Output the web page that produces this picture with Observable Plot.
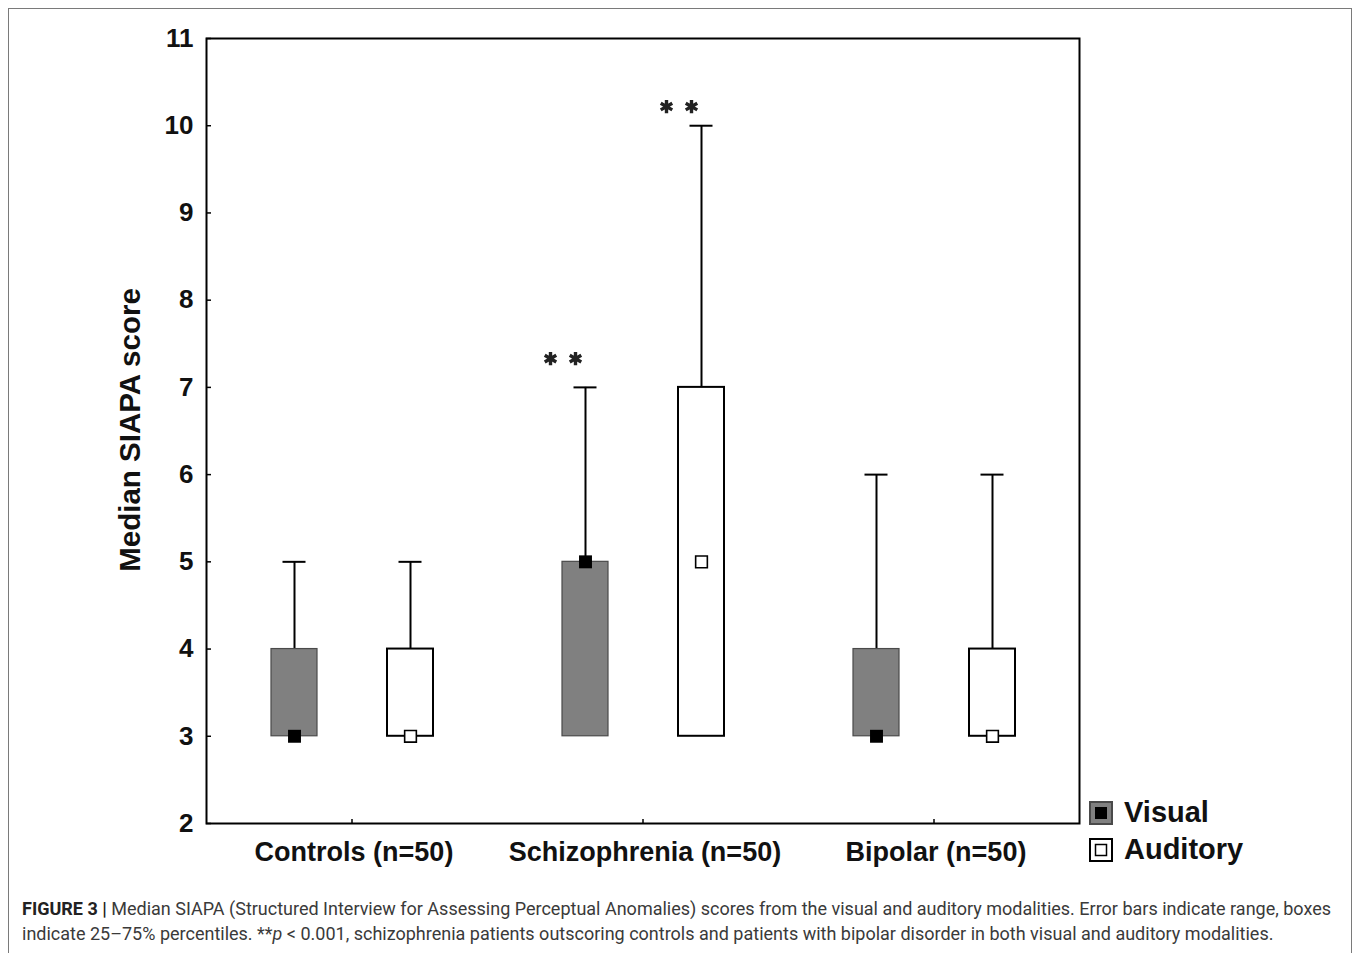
<!DOCTYPE html>
<html><head><meta charset="utf-8">
<script src="https://cdn.jsdelivr.net/npm/d3@7"></script>
<script src="https://cdn.jsdelivr.net/npm/@observablehq/plot@0.6"></script>
<style>
body{margin:0;background:#fff;}
#wrap{position:relative;width:1358px;height:953px;overflow:hidden;font-family:"Liberation Sans",Arial,sans-serif;}
#border{position:absolute;left:8px;top:8px;width:1344px;height:980px;border:1.5px solid #7a7a7a;box-sizing:border-box;}
#chart{position:absolute;left:0;top:0;}
#legend{position:absolute;left:1089px;top:794px;font-weight:bold;font-size:29px;color:#111;}
#legend .row{display:flex;align-items:center;height:37px;}
#legend svg{margin-right:11px;}
#caption{position:absolute;left:22px;top:896px;font-family:Roboto,"Liberation Sans",sans-serif;font-size:18px;color:#3a3a3a;line-height:25px;white-space:nowrap;}
#caption b{font-weight:bold;color:#222;}
</style></head>
<body>
<div id="wrap">
  <div id="border"></div>
  <div id="chart"></div>
  <div id="legend"></div>
  <div id="caption"></div>
</div>
<script>
// ---- data ----
const groups = ["Controls (n=50)", "Schizophrenia (n=50)", "Bipolar (n=50)"];
const modalities = ["Visual", "Auditory"];
const visualMin    = [3, 3, 3];
const visualQ1     = [3, 3, 3];
const visualMedian = [3, 5, 3];
const visualQ3     = [4, 5, 4];
const visualMax    = [5, 7, 6];
const auditoryMin    = [3, 3, 3];
const auditoryQ1     = [3, 3, 3];
const auditoryMedian = [3, 5, 3];
const auditoryQ3     = [4, 7, 4];
const auditoryMax    = [5, 10, 6];
const yTicks = [2, 3, 4, 5, 6, 7, 8, 9, 10, 11];
// significance markers (**) : group, modality, vertical position
const sigGroup = ["Schizophrenia (n=50)", "Schizophrenia (n=50)"];
const sigModality = ["Visual", "Auditory"];
const sigY = [7.33, 10.22];
const yLabel = "Median SIAPA score";
const legendLabels = ["Visual", "Auditory"];

// ---- build tables ----
const vis = groups.map((g, i) => ({group: g, min: visualMin[i], q1: visualQ1[i], median: visualMedian[i], q3: visualQ3[i], max: visualMax[i]}));
const aud = groups.map((g, i) => ({group: g, min: auditoryMin[i], q1: auditoryQ1[i], median: auditoryMedian[i], q3: auditoryQ3[i], max: auditoryMax[i]}));
const sigs = sigGroup.map((g, i) => ({group: g, modality: sigModality[i], y: sigY[i]}));

// ---- layout ----
const W = 1358, H = 880, mL = 206, mR = 279, mT = 38, mB = 57;
const bw = (W - mL - mR) / groups.length;
const offset = {Visual: -57.5, Auditory: 58.5};
const boxHalf = 23, capHalf = 11.5;
function insets(mod, half) {
  const c = bw / 2 + offset[mod];
  return {insetLeft: c - half, insetRight: bw - c - half};
}

const marks = [];
function series(data, mod, boxStyle, dotStyle) {
  marks.push(Plot.ruleX(data, {x: "group", y1: "q3", y2: "max", dx: offset[mod], stroke: "#000", strokeWidth: 2}));
  marks.push(Plot.ruleX(data, {x: "group", y1: "min", y2: "q1", dx: offset[mod], stroke: "#000", strokeWidth: 2}));
  marks.push(Plot.tickY(data, {x: "group", y: "max", ...insets(mod, capHalf), stroke: "#000", strokeWidth: 2}));
  marks.push(Plot.barY(data, {x: "group", y1: "q1", y2: "q3", ...insets(mod, boxHalf), ...boxStyle}));
  marks.push(Plot.dot(data, {x: "group", y: "median", dx: offset[mod], symbol: "square", ...dotStyle}));
}
series(vis, "Visual", {fill: "#808080", stroke: "#4a4a4a", strokeWidth: 1.2}, {r: 7.3, fill: "#000", stroke: "none"});
series(aud, "Auditory", {fill: "#fff", stroke: "#000", strokeWidth: 2}, {r: 6.6, fill: "#fff", stroke: "#000", strokeWidth: 1.6});

for (const s of sigs) {
  for (const d of [-35, -10]) {
    marks.push(Plot.dot([s], {x: "group", y: "y", dx: offset[s.modality] + d, symbol: "asterisk", r: 6.3, stroke: "#222", strokeWidth: 3.4}));
  }
}

const chart = Plot.plot({
  width: W, height: H,
  marginLeft: mL, marginRight: mR, marginTop: mT, marginBottom: mB,
  style: {fontFamily: "'Liberation Sans', Arial, sans-serif", background: "transparent", color: "#000"},
  x: {type: "band", domain: groups, padding: 0},
  y: {domain: [2, 11]},
  marks: [
    ...marks,
    Plot.frame({stroke: "#000", strokeWidth: 2}),
    Plot.axisY({ticks: yTicks, tickSize: 5, dx: 5, tickFormat: () => "", strokeWidth: 1.5, label: null}),
    Plot.axisY({ticks: yTicks, tickSize: 0, tickPadding: 13, fontSize: 26, fontWeight: "bold", fill: "#111", label: null}),
    Plot.axisX({tickSize: 4, dy: -4, tickFormat: () => "", strokeWidth: 1.5, label: null}),
    Plot.axisX({tickSize: 0, tickPadding: 18, fontSize: 27, fontWeight: "bold", fill: "#111", label: null, dx: 2}),
    Plot.text([yLabel], {text: d => d, frameAnchor: "left", textAnchor: "middle", rotate: -90, dx: -76, dy: -1, fontSize: 29.5, fontWeight: "bold", fill: "#111"})
  ]
});
document.getElementById("chart").appendChild(chart);

// ---- legend ----
const icons = {
  Visual: '<svg width="24" height="24"><rect x="1" y="1" width="22" height="22" fill="#808080" stroke="#4a4a4a" stroke-width="2"/><rect x="6" y="6" width="12" height="12" fill="#000"/></svg>',
  Auditory: '<svg width="24" height="24"><rect x="1" y="1" width="22" height="22" fill="#fff" stroke="#000" stroke-width="2"/><rect x="6.5" y="6.5" width="11" height="11" fill="#fff" stroke="#000" stroke-width="1.5"/></svg>'
};
document.getElementById("legend").innerHTML = legendLabels.map(l => `<div class="row">${icons[l]}<span>${l}</span></div>`).join("");

// ---- caption ----
document.getElementById("caption").innerHTML =
  '<b>FIGURE 3 |</b> Median SIAPA (Structured Interview for Assessing Perceptual Anomalies) scores from the visual and auditory modalities. Error bars indicate range, boxes<br>' +
  'indicate 25–75% percentiles. **<i>p</i> &lt; 0.001, schizophrenia patients outscoring controls and patients with bipolar disorder in both visual and auditory modalities.';
</script>
</body></html>
